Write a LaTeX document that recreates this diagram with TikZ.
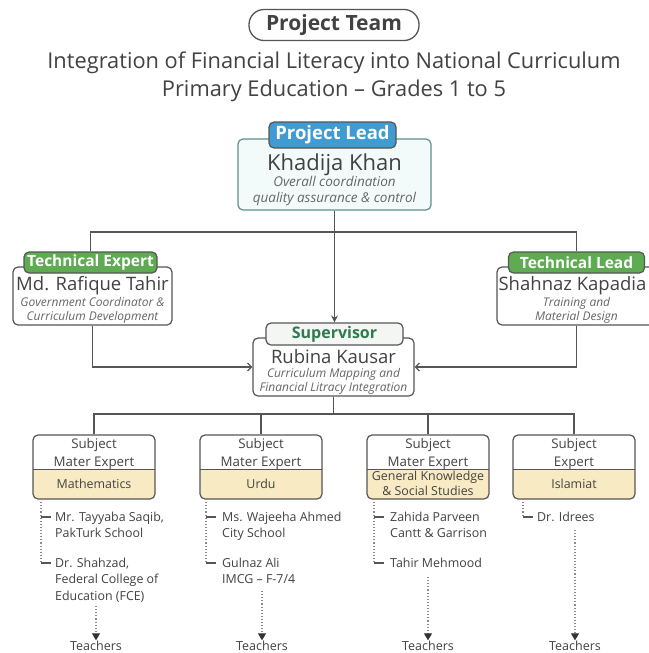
\documentclass[tikz,border=0pt]{standalone}
\usepackage{fontspec}
\setmainfont{Open Sans}
\usetikzlibrary{arrows.meta}
\definecolor{txt}{HTML}{424242}
\definecolor{desc}{HTML}{666666}
\definecolor{bord}{HTML}{555555}
\definecolor{blueh}{HTML}{3E9CD2}
\definecolor{plfill}{HTML}{F3FAFA}
\definecolor{plbord}{HTML}{5F8F8B}
\definecolor{greenh}{HTML}{5EAB51}
\definecolor{supg}{HTML}{2F7A4E}
\definecolor{supfill}{HTML}{F3F6F3}
\definecolor{yel}{HTML}{F8EBC3}
\definecolor{dotc}{HTML}{8A8A8A}
\begin{document}
\begin{tikzpicture}[x=1pt,y=-1pt,
  box/.style={draw=bord, line width=1.2pt, rounded corners=5pt, fill=white, inner sep=0pt},
  hdr/.style={draw=bord, line width=1.2pt, rounded corners=5pt, inner sep=0pt, text=white, font=\bfseries\fontsize{15.5}{17}\selectfont},
  conn/.style={draw=bord, line width=1.2pt},
  arr/.style={conn, -{Stealth[length=7pt,width=7pt]}},
  sarr/.style={conn, -{Straight Barb[length=4pt,width=8pt]}},
  dotl/.style={draw=dotc, line width=1.1pt, dotted},
  darr/.style={dotl, -{Triangle[length=7pt,width=8pt,color=black!80]}},
  tickl/.style={draw=bord, line width=1.2pt},
  nm/.style={text=txt, inner sep=0pt, anchor=base, font=\fontsize{18.5}{20}\selectfont},
  dsc/.style={text=desc, inner sep=0pt, anchor=base, font=\itshape\fontsize{12}{14}\selectfont},
  subt/.style={text=txt, inner sep=0pt, anchor=base, font=\fontsize{13.3}{15}\selectfont},
  subj/.style={text=txt, inner sep=0pt, anchor=base, font=\fontsize{12.4}{14}\selectfont},
  lt/.style={text=txt, inner sep=0pt, anchor=base west, font=\fontsize{12.4}{14}\selectfont},
  teach/.style={text=txt, inner sep=0pt, anchor=base, font=\fontsize{12.5}{14}\selectfont}
]
\useasboundingbox[fill=white] (0,0) rectangle (648,653);

% title
\node[draw=bord, line width=1.3pt, rounded corners=15pt, minimum width=170pt, minimum height=31pt, inner sep=0pt,
  text=txt, font=\bfseries\fontsize{21}{23}\selectfont] (pt) at (334,25) {Project Team};
\node[text=txt, inner sep=0pt, anchor=base, font=\fontsize{21.8}{24}\selectfont] (t1) at (334,68) {Integration of Financial Literacy into National Curriculum};
\node[text=txt, inner sep=0pt, anchor=base, font=\fontsize{21.8}{24}\selectfont] (t2) at (334,96) {Primary Education -- Grades 1 to 5};

% project lead
\node[box, draw=plbord, fill=plfill, minimum width=193pt, minimum height=71pt] (pl) at (334.5,174.5) {};
\node[hdr, fill=blueh, minimum width=127pt, minimum height=26pt, font=\bfseries\fontsize{18.5}{20}\selectfont] (plh) at (332.5,135) {Project Lead};
\node[nm, font=\fontsize{22}{24}\selectfont] (pln) at (334.5,170) {Khadija Khan};
\node[dsc, font=\itshape\fontsize{13.5}{15}\selectfont] (pld1) at (334.5,186) {Overall coordination};
\node[dsc, font=\itshape\fontsize{13.5}{15}\selectfont] (pld2) at (334.5,202) {quality assurance \& control};

% technical expert
\node[box, minimum width=159pt, minimum height=58pt] (te) at (92.5,296) {};
\node[hdr, fill=greenh, minimum width=133pt, minimum height=21pt] (teh) at (90.5,262.5) {Technical Expert};
\node[nm] (ten) at (92.5,290) {Md. Rafique Tahir};
\node[dsc] (ted1) at (92.5,306) {Government Coordinator \&};
\node[dsc] (ted2) at (92.5,320) {Curriculum Development};

% technical lead
\node[box, minimum width=159pt, minimum height=58pt] (tl) at (576.5,296) {};
\node[hdr, fill=greenh, minimum width=136pt, minimum height=21pt] (tlh) at (576.5,262.5) {Technical Lead};
\node[nm] (tln) at (572.5,290) {Shahnaz Kapadia};
\node[dsc] (tld1) at (576.5,306) {Training and};
\node[dsc] (tld2) at (576.5,320) {Material Design};

% supervisor
\node[box, minimum width=161pt, minimum height=58pt] (sup) at (333.5,367) {};
\node[hdr, fill=supfill, text=supg, minimum width=137pt, minimum height=22pt, font=\bfseries\fontsize{16}{18}\selectfont] (suph) at (334.5,334) {Supervisor};
\node[nm] (supn) at (333.5,363) {Rubina Kausar};
\node[dsc] (supd1) at (333.5,377) {Curriculum Mapping and};
\node[dsc] (supd2) at (333.5,391) {Financial Litracy Integration};

% connectors top
\coordinate (busA) at (334.5,232);
\draw[conn] (teh.north) |- (busA) -| (tlh.north);
\draw[arr] (pl.south) -- (pl.south |- suph.north);
\draw[sarr] (te.south) |- (sup.west);
\draw[sarr] (tl.south) |- (sup.east);

% subject boxes
\newcommand{\subjbox}[2]{%
  \begin{scope}
    \clip[rounded corners=5pt] (#2-61,435) rectangle (#2+61,499);
    \fill[yel] (#2-61,469) rectangle (#2+61,499);
  \end{scope}
  \draw[bord, line width=1pt] (#2-61,469) -- (#2+61,469);
  \node[box, fill=none, minimum width=122pt, minimum height=64pt] (#1) at (#2,467) {};
}
\subjbox{s1}{94}
\subjbox{s2}{261}
\subjbox{s3}{428}
\subjbox{s4}{574}

\node[subt] (s1a) at (94,448) {Subject};
\node[subt] (s1b) at (94,466) {Mater Expert};
\node[subj] (s1c) at (94,488) {Mathematics};
\node[subt] (s2a) at (261,448) {Subject};
\node[subt] (s2b) at (261,466) {Mater Expert};
\node[subj] (s2c) at (261,488) {Urdu};
\node[subt] (s3a) at (428,448) {Subject};
\node[subt] (s3b) at (428,466) {Mater Expert};
\node[subj] (s3c) at (428,480) {General Knowledge};
\node[subj] (s3d) at (428,495) {\& Social Studies};
\node[subt] (s4a) at (574,448) {Subject};
\node[subt] (s4b) at (574,466) {Expert};
\node[subj] (s4c) at (574,488) {Islamiat};

\coordinate (busB) at (333.5,414);
\draw[conn] (sup.south) -- (busB);
\draw[conn] (s1.north) |- (busB) -| (s4.north);
\draw[conn] (s2.north) -- (s2.north |- busB);
\draw[conn] (s3.north) -- (s3.north |- busB);

% lists
% box 1
\coordinate (l1top) at (41,499);
\coordinate (l1a) at (41,517);
\coordinate (l1b) at (41,563);
\draw[dotl] (l1top) -- (l1b);
\draw[tickl] (l1a) -- ++(10,0);
\draw[tickl] (l1b) -- ++(10,0);
\node[lt] (m1) at (55,521) {Mr. Tayyaba Saqib,};
\node[lt] (m2) at (55,537) {PakTurk School};
\node[lt] (m3) at (55,567) {Dr. Shahzad,};
\node[lt] (m4) at (55,583) {Federal College of};
\node[lt] (m5) at (55,600) {Education (FCE)};
\node[teach] (tc1) at (96,650) {Teachers};
\draw[darr] (96,606) -- (tc1.north);

% box 2
\coordinate (l2top) at (206,499);
\coordinate (l2a) at (206,517);
\coordinate (l2b) at (206,563);
\draw[dotl] (l2top) -- (l2b);
\draw[tickl] (l2a) -- ++(10,0);
\draw[tickl] (l2b) -- ++(10,0);
\node[lt] (u1) at (222,521) {Ms. Wajeeha Ahmed};
\node[lt] (u2) at (222,537) {City School};
\node[lt] (u3) at (222,567) {Gulnaz Ali};
\node[lt] (u4) at (222,583) {IMCG -- F-7/4};
\node[teach] (tc2) at (262,650) {Teachers};
\draw[darr] (262,591) -- (tc2.north);

% box 3
\coordinate (l3top) at (374,499);
\coordinate (l3a) at (374,517);
\coordinate (l3b) at (374,563);
\draw[dotl] (l3top) -- (l3b);
\draw[tickl] (l3a) -- ++(10,0);
\draw[tickl] (l3b) -- ++(10,0);
\node[lt] (g1) at (390,521) {Zahida Parveen};
\node[lt] (g2) at (390,537) {Cantt \& Garrison};
\node[lt] (g3) at (390,567) {Tahir Mehmood};
\node[teach] (tc3) at (428,650) {Teachers};
\draw[darr] (428,577) -- (tc3.north);

% box 4
\coordinate (l4top) at (523,499);
\coordinate (l4a) at (523,517);
\draw[dotl] (l4top) -- (l4a);
\draw[tickl] (l4a) -- ++(10,0);
\node[lt] (i1) at (537,521) {Dr. Idrees};
\node[teach] (tc4) at (575,650) {Teachers};
\draw[darr] (575,530) -- (tc4.north);
\end{tikzpicture}
\end{document}
